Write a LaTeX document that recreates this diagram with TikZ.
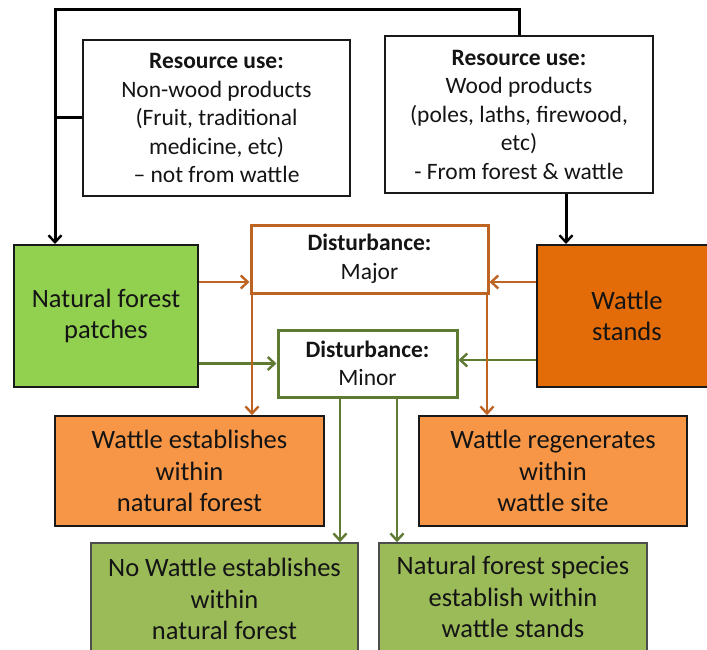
\documentclass[tikz,border=0pt]{standalone}
\usepackage{fontspec}
\setmainfont{Carlito}
\usetikzlibrary{arrows.meta}

\definecolor{leafgreen}{RGB}{146,208,80}
\definecolor{wattledark}{RGB}{227,108,9}
\definecolor{wattlelight}{RGB}{247,150,70}
\definecolor{olivebox}{RGB}{155,187,89}
\definecolor{majorline}{RGB}{190,100,35}
\definecolor{minorline}{RGB}{95,122,50}
\definecolor{inktext}{RGB}{20,20,20}

\tikzset{
  box/.style={rectangle, inner sep=0pt, align=center, text=inktext,
              line width=2pt, draw=black!90},
  bigtext/.style={font=\fontsize{26.5}{31.5}\selectfont},
  smalltext/.style={font=\fontsize{23.5}{28.5}\selectfont},
  tip/.style={-{Straight Barb[length=7pt,width=13pt,line width=2.4pt]}},
  blackline/.style={draw=black, line width=3pt},
  majorarrow/.style={draw=majorline, line width=2.7pt, tip},
  minorarrow/.style={draw=minorline, line width=2.7pt, tip},
}

\begin{document}
\begin{tikzpicture}[x=1pt, y=-1pt]
\useasboundingbox (0,0) rectangle (707,650);
\clip (0,0) rectangle (707,650);
\fill[white] (0,0) rectangle (707,650);

% resource use boxes
\node[box, smalltext, minimum width=267pt, minimum height=156pt] (lr) at (216.5,118)
  {\textbf{Resource use:}\\Non-wood products\\(Fruit, traditional\\medicine, etc)\\– not from wattle};
\node[box, smalltext, minimum width=268pt, minimum height=157pt] (rr) at (519,114.5)
  {\textbf{Resource use:}\\Wood products\\(poles, laths, firewood,\\etc)\\- From forest \& wattle};

% land-cover boxes
\node[box, bigtext, fill=leafgreen, minimum width=184pt, minimum height=142pt] (nf) at (106,316)
  {Natural forest\\patches};
\node[box, bigtext, fill=wattledark, minimum width=180pt, minimum height=142pt] (ws) at (627,316)
  {Wattle\\stands};

% disturbance boxes
\node[box, smalltext, draw=majorline, line width=3pt, fill=white,
      minimum width=237pt, minimum height=68pt] (maj) at (369.5,259)
  {\textbf{Disturbance:}\\Major};
\node[box, smalltext, draw=minorline, line width=3pt, fill=white,
      minimum width=179pt, minimum height=67pt] (mn) at (367.5,363.5)
  {\textbf{Disturbance:}\\Minor};

% outcome boxes
\node[box, bigtext, fill=wattlelight, line width=1.6pt, minimum width=269pt, minimum height=110pt] (we) at (189.5,471)
  {Wattle establishes\\within\\natural forest};
\node[box, bigtext, fill=wattlelight, line width=1.6pt, minimum width=268pt, minimum height=110pt] (wr) at (553,471)
  {Wattle regenerates\\within\\wattle site};
\node[box, bigtext, fill=olivebox, line width=1.6pt, draw=black!70, minimum width=267pt, minimum height=112pt] (nw) at (224.5,599)
  {No Wattle establishes\\within\\natural forest};
\node[box, bigtext, fill=olivebox, line width=1.6pt, draw=black!70, minimum width=268pt, minimum height=108pt] (ns) at (513,597)
  {Natural forest species\\establish within\\wattle stands};

% resource-use feedback loop
\coordinate (corner) at (55,10);
\coordinate (woodin) at (566,0);
\draw[blackline, tip] (rr.north) |- (corner) -- (corner |- nf.north);
\draw[blackline] (lr.west) -- (lr.west -| corner);
\draw[blackline, tip] (rr.south -| woodin) -- (ws.north -| woodin);

% disturbance inputs
\coordinate (majrow) at (0,282);
\coordinate (minrow) at (0,360);
\draw[majorarrow] (nf.east |- majrow) -- (maj.west |- majrow);
\draw[majorarrow] (ws.west |- majrow) -- (maj.east |- majrow);
\draw[minorarrow] (nf.east |- mn.west) -- (mn.west);
\draw[minorarrow] (ws.west |- minrow) -- (mn.east |- minrow);

% disturbance outcomes
\coordinate (majl) at (252,0);
\coordinate (majr) at (487,0);
\coordinate (minl) at (340,0);
\coordinate (minr) at (397,0);
\draw[majorarrow] (maj.south -| majl) -- (we.north -| majl);
\draw[majorarrow] (maj.south -| majr) -- (wr.north -| majr);
\draw[minorarrow] (mn.south -| minl) -- (nw.north -| minl);
\draw[minorarrow] (mn.south -| minr) -- (ns.north -| minr);
\end{tikzpicture}
\end{document}
